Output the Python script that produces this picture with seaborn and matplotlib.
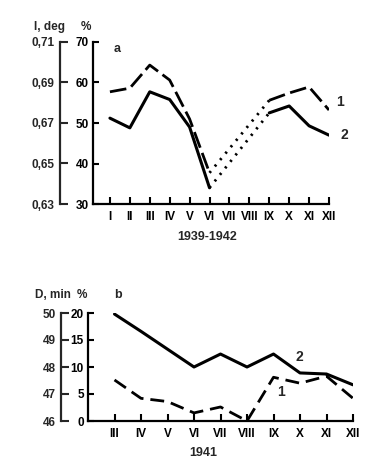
import numpy as np
import matplotlib
matplotlib.use("Agg")
import matplotlib.pyplot as plt
import seaborn as sns

sns.set_style("ticks")
plt.rcParams['font.family'] = ['Liberation Sans', 'DejaVu Sans']
plt.rcParams['font.weight'] = 'bold'

# -----------------------------
# DATA
# -----------------------------
months_a = ["I", "II", "III", "IV", "V", "VI", "VII", "VIII", "IX", "X", "XI", "XII"]
pos_a = np.arange(1, 13)
# panel a, %, VII and VIII missing (dotted link VI -> IX)
a_curve1 = [57.7, 58.6, 64.3, 60.6, 51.0, 37.7, np.nan, np.nan, 55.6, 57.4, 58.9, 53.2]
a_curve2 = [51.2, 48.8, 57.7, 55.8, 49.0, 34.0, np.nan, np.nan, 52.5, 54.2, 49.3, 47.0]

months_b = ["III", "IV", "V", "VI", "VII", "VIII", "IX", "X", "XI", "XII"]
pos_b = np.arange(3, 13)
b_curve1 = [7.6, 4.2, 3.6, 1.5, 2.6, 0.0, 8.1, 7.0, 8.3, 4.2]
b_curve2 = [19.8, 16.6, 13.3, 10.0, 12.4, 10.0, 12.4, 8.9, 8.7, 6.7]

W, H = 388, 469
FS = 8.5
fig = plt.figure(figsize=(W / 100, H / 100), dpi=100)


def px_box(x0, x1, ytop, ybot):
    return [x0 / W, 1 - ybot / H, (x1 - x0) / W, (ybot - ytop) / H]


def style_axes(ax):
    for s in ["top", "right"]:
        ax.spines[s].set_visible(False)
    for s in ["left", "bottom"]:
        ax.spines[s].set_linewidth(1.6)
        ax.spines[s].set_color("black")
    ax.tick_params(axis="both", direction="in", length=4, width=1.5,
                   labelsize=FS, colors="black")
    ax.tick_params(axis="x", pad=5, length=5)
    ax.tick_params(axis="y", pad=3)


def comma(v, pos=None):
    return f"{v:.2f}".replace(".", ",")


# -----------------------------
# PANEL A
# -----------------------------
ax1 = fig.add_axes(px_box(93, 329, 42, 204))
c1 = np.array(a_curve1)
c2 = np.array(a_curve2)
dash = (0, (6, 2))
dot = (0, (0.8, 2.2))

sns.lineplot(x=pos_a[:6], y=c1[:6], ax=ax1, color="black", lw=2, linestyle=dash)
sns.lineplot(x=pos_a[8:], y=c1[8:], ax=ax1, color="black", lw=2, linestyle=dash)
sns.lineplot(x=pos_a[[5, 8]], y=c1[[5, 8]], ax=ax1, color="black", lw=2, linestyle=dot)
sns.lineplot(x=pos_a[:6], y=c2[:6], ax=ax1, color="black", lw=2.2)
sns.lineplot(x=pos_a[8:], y=c2[8:], ax=ax1, color="black", lw=2.2)
sns.lineplot(x=pos_a[[5, 8]], y=c2[[5, 8]], ax=ax1, color="black", lw=2, linestyle=dot)

ax1.set_xlim(0.15, 12)
ax1.set_ylim(30, 70)
ax1.set_xticks(pos_a)
ax1.set_xticklabels(months_a)
ax1.set_yticks([30, 40, 50, 60, 70])
style_axes(ax1)

sec1 = ax1.secondary_yaxis(-0.14, functions=(lambda p: 0.63 + (p - 30) * 0.002,
                                             lambda d: 30 + (d - 0.63) / 0.002))
sec1.set_yticks([0.63, 0.65, 0.67, 0.69, 0.71])
sec1.yaxis.set_major_formatter(plt.FuncFormatter(comma))
sec1.spines["left"].set_linewidth(1.6)
sec1.tick_params(direction="in", length=6, width=1.5, labelsize=FS, pad=4)

ax1.text(1.35, 68.3, "a", fontsize=9, ha="center", va="center")
ax1.text(12.55, 55.2, "1", fontsize=10, ha="center", va="center", clip_on=False)
ax1.text(12.75, 47.0, "2", fontsize=10, ha="center", va="center", clip_on=False)
fig.text(50 / W, 1 - 27 / H, "I, deg", fontsize=FS, ha="center", va="center")
fig.text(86 / W, 1 - 27 / H, "%", fontsize=FS, ha="center", va="center")
fig.text(207 / W, 1 - 237 / H, "1939-1942", fontsize=9, ha="center", va="center")

# -----------------------------
# PANEL B
# -----------------------------
ax2 = fig.add_axes(px_box(88, 353, 313, 421))
sns.lineplot(x=pos_b, y=b_curve1, ax=ax2, color="black", lw=2, linestyle=(0, (5, 2.5)))
sns.lineplot(x=pos_b, y=b_curve2, ax=ax2, color="black", lw=2.2)

ax2.set_xlim(2.0, 12)
ax2.set_ylim(0, 20)
ax2.set_xticks(pos_b)
ax2.set_xticklabels(months_b)
ax2.set_yticks([0, 5, 10, 15, 20])
style_axes(ax2)

sec2 = ax2.secondary_yaxis(-0.102, functions=(lambda p: 46 + p / 5,
                                              lambda d: (d - 46) * 5))
sec2.set_yticks([46, 47, 48, 49, 50])
sec2.spines["left"].set_linewidth(1.6)
sec2.tick_params(direction="in", length=6, width=1.5, labelsize=FS, pad=4)

ax2.text(3.15, 23.3, "b", fontsize=9, ha="center", va="center", clip_on=False)
ax2.text(9.97, 11.9, "2", fontsize=10, ha="center", va="center")
ax2.text(9.3, 5.4, "1", fontsize=10, ha="center", va="center")
fig.text(53 / W, 1 - 295 / H, "D, min", fontsize=FS, ha="center", va="center")
fig.text(82 / W, 1 - 295 / H, "%", fontsize=FS, ha="center", va="center")
fig.text(203 / W, 1 - 453 / H, "1941", fontsize=9, ha="center", va="center")

fig.savefig("out.png", dpi=100)
